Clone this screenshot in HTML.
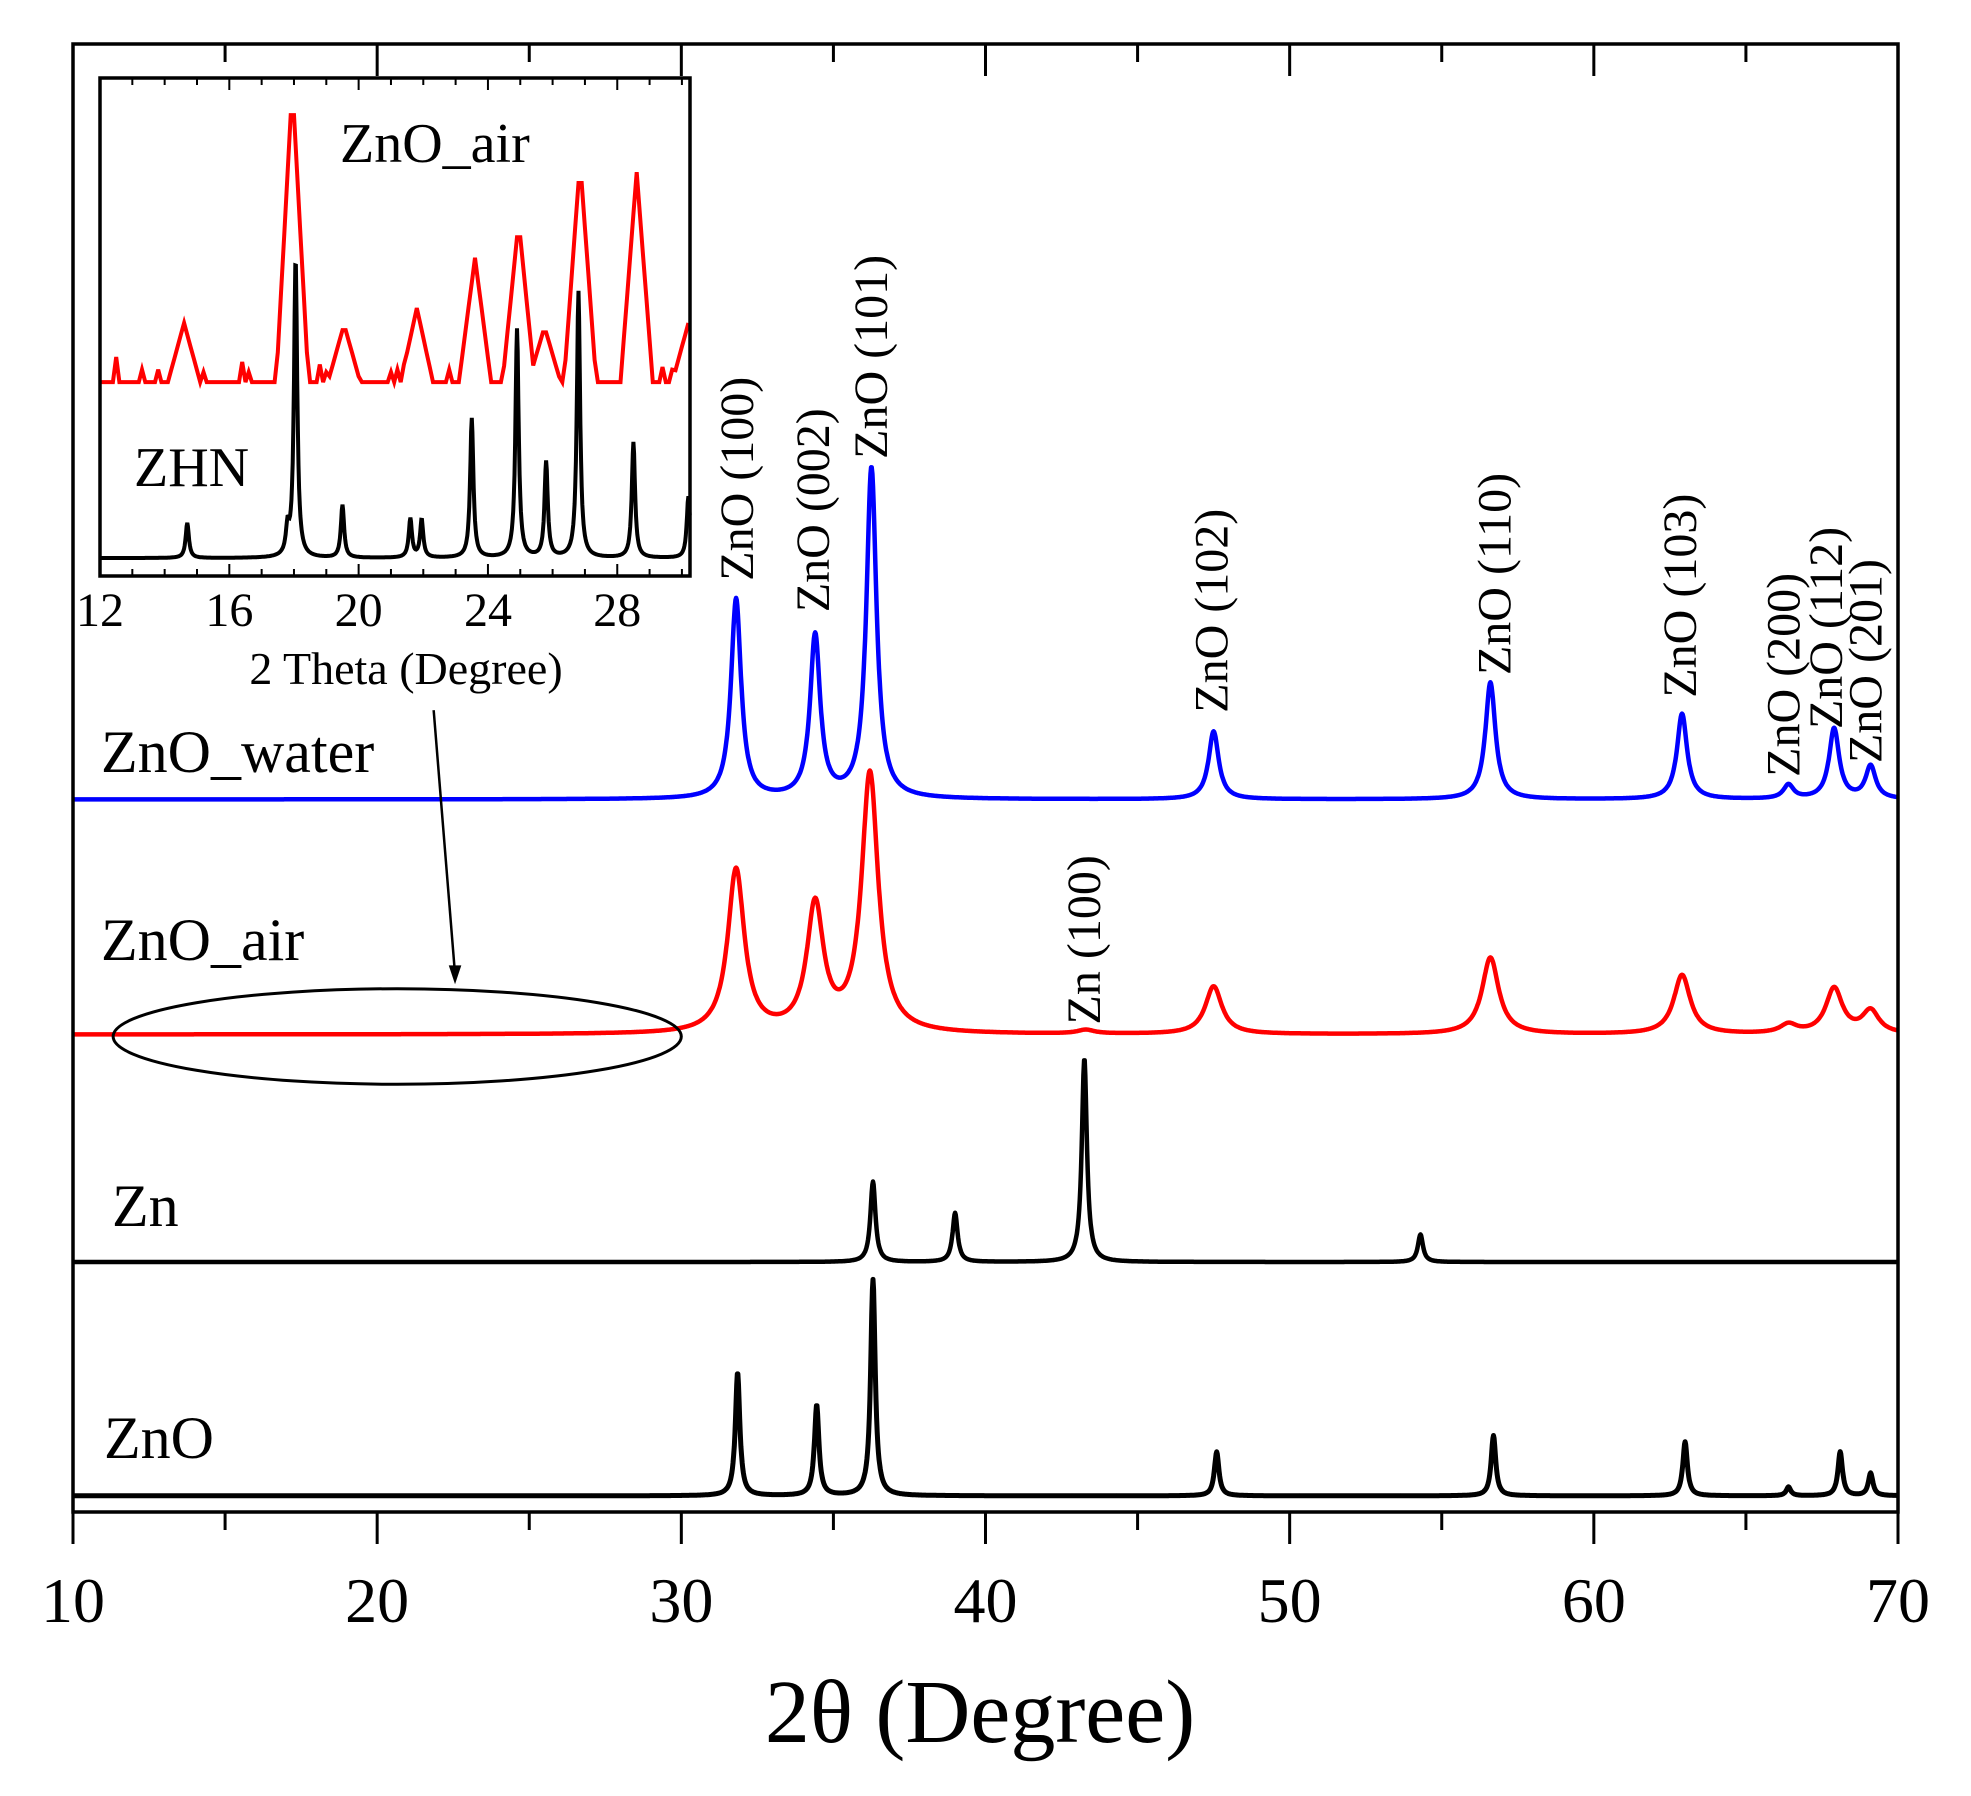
<!DOCTYPE html>
<html><head><meta charset="utf-8"><style>
html,body{margin:0;padding:0;background:#fff}
svg{display:block;font-family:"Liberation Serif",serif}
</style></head><body>
<svg id="c" width="1971" height="1796" viewBox="0 0 1971 1796">
<g id="g"></g>
</svg>
<script>
// ---- main chart data ----
const xTicks=[10,20,30,40,50,60,70];
const waterPos=[31.8,34.4,36.25,47.5,56.6,62.9,66.4,67.9,69.1];
const waterInt=[159,129,263,54,93,68,11,56,26];
const airPos=[31.8,34.4,36.2,43.3,47.5,56.6,62.9,66.4,67.9,69.1];
const airInt=[130,100,206,3,38,61,47,7,36,18];
const znPos=[36.3,39.0,43.25,54.3];
const znInt=[64,39,162,22];
const refPos=[31.85,34.45,36.3,47.6,56.7,63.0,66.4,68.1,69.1];
const refInt=[98,72,172,35,48,43,7,35,18];
const peakLabels=["ZnO (100)","ZnO (002)","ZnO (101)","ZnO (102)","ZnO (110)","ZnO (103)","ZnO (200)","ZnO (112)","ZnO (201)","Zn (100)"];
const peakLabelX=[31.8,34.3,36.2,47.4,56.7,62.8,66.2,67.6,68.9,43.2];
const peakLabelBase=[462,487,365,567,537,555,618,580,607,815];
// ---- inset data ----
const insetTicks=[12,16,20,24,28];
const zhnPos=[14.7,17.8,18.05,19.5,21.6,21.95,23.5,24.9,25.8,26.8,28.5,30.2];
const zhnInt=[28,20,238,42,31,30,111,182,76,212,92,49];
const airInsetPos=[14.6,17.95,19.55,21.8,23.6,24.95,25.75,26.85,28.6,30.2];
const airInsetInt=[47,236,46,59,99,128,44,176,167,47];
const airNoisePos=[12.5,13.3,13.8,15.0,15.2,16.4,16.6,18.8,19.0,21.0,21.2,21.4,22.8,25.5,29.0,29.4,29.7];
const airNoiseInt=[20,10,10,8,8,16,8,14,8,8,10,14,10,12,20,12,10];

const K=1.257;
const NS="http://www.w3.org/2000/svg";
const g=document.getElementById('g');
function el(t,a,p){const e=document.createElementNS(NS,t);for(const k in a)e.setAttribute(k,a[k]);(p||g).appendChild(e);return e;}
const X0=73,X1=1898,Y0=44,Y1=1512;
const xs=v=>X0+(v-10)/60*(X1-X0);
function lor(x,pos,ints,w){let s=0;for(let i=0;i<pos.length;i++){const d=(x-pos[i])/w;s+=ints[i]/(1+d*d);}return s;}
function series(pos,ints,w,base,color,name,sw){
  let d="";for(let x=10;x<=70.0001;x+=0.02){const y=base*K-lor(x,pos,ints,w)*K;d+=(d?"L":"M")+xs(x).toFixed(1)+","+y.toFixed(1);}
  const p=el('path',{d:d,fill:'none',stroke:color,'stroke-width':sw||4.5,'stroke-linejoin':'round'});
  
  
}
series(waterPos,waterInt,0.2,636,'#0000ff','zno-water-line');
series(airPos,airInt,0.33,823,'#ff0000','zno-air-line');
series(znPos,znInt,0.1,1004,'#000','zn-line');
series(refPos,refInt,0.09,1190,'#000','zno-reference-line',5);

// frame
const fr=el('rect',{x:X0,y:Y0,width:X1-X0,height:Y1-Y0,fill:'none',stroke:'#000','stroke-width':3.5});


for(let v=10;v<=70;v+=5){
  const major=v%10===0;const x=xs(v);
  const t=el('line',{x1:x,y1:Y1,x2:x,y2:Y1+(major?32:18),stroke:'#000','stroke-width':3});
  
  
  el('line',{x1:x,y1:Y0,x2:x,y2:Y0+(major?32:18),stroke:'#000','stroke-width':3});
}
xTicks.forEach(v=>{
  const t=el('text',{x:xs(v),y:1622,'font-size':64,'text-anchor':'middle'});t.textContent=v;
  
  
});
const xt=el('text',{x:980,y:1742,'font-size':90,'text-anchor':'middle'});xt.textContent="2θ (Degree)";



// series labels
[["ZnO_water",101,772],["ZnO_air",101,960],["Zn",112,1226],["ZnO",104,1458]].forEach(s=>{
  const t=el('text',{x:s[1],y:s[2],'font-size':60});t.textContent=s[0];
  
  
});
// peak labels
peakLabels.forEach((s,i)=>{
  const x=xs(peakLabelX[i])+17,y=peakLabelBase[i]*K;
  const t=el('text',{x:x,y:y,'font-size':48,transform:`rotate(-90 ${x} ${y})`});t.textContent=s;
  
  
});
// ellipse + arrow
const ell=el('ellipse',{cx:316*K,cy:823*K+2,rx:226*K,ry:38*K,fill:'none',stroke:'#000','stroke-width':3});


const ar=el('line',{x1:345*K,y1:565*K,x2:362*K,y2:775*K,stroke:'#000','stroke-width':2.5});


const ah=el('polygon',{points:`${362*K},${783*K} ${357*K},${768*K} ${367*K},${768*K}`,fill:'#000'});



// ---- inset ----
const IX0=100,IX1=690,IY0=78,IY1=576;
const ixs=v=>IX0+(v-12)/(30.25-12)*(IX1-IX0);
const bg=el('rect',{x:IX0,y:IY0,width:IX1-IX0,height:IY1-IY0,fill:'#fff',stroke:'none'});


{let d="";for(let x=12;x<=30.25;x+=0.02){const y=444*K-lor(x,zhnPos,zhnInt,0.06)*K;d+=(d?"L":"M")+ixs(x).toFixed(1)+","+y.toFixed(1);}
 const p=el('path',{d:d,fill:'none',stroke:'#000','stroke-width':4});
 
 }
{let d="";for(let x=12;x<=30.25;x+=0.1){let s=0;
  airInsetPos.forEach((p,i)=>{const h=airInsetInt[i]*Math.max(0,1-Math.abs(x-p)/0.5);s=Math.max(s,h);});
  airNoisePos.forEach((p,i)=>{if(Math.abs(x-p)<0.06)s=Math.max(s,airNoiseInt[i]);});
  const y=304*K-s*K;d+=(d?"L":"M")+ixs(x).toFixed(1)+","+y.toFixed(1);}
 const p=el('path',{d:d,fill:'none',stroke:'#ff0000','stroke-width':4});
 
 }
const ifr=el('rect',{x:IX0,y:IY0,width:IX1-IX0,height:IY1-IY0,fill:'none',stroke:'#000','stroke-width':3.5});


for(let v=12;v<=30;v+=1){const x=ixs(v),m=v%4===0;
  el('line',{x1:x,y1:IY1,x2:x,y2:IY1-(m?12:7),stroke:'#000','stroke-width':2});
  el('line',{x1:x,y1:IY0,x2:x,y2:IY0+(m?12:7),stroke:'#000','stroke-width':2});}
insetTicks.forEach(v=>{
  const t=el('text',{x:ixs(v),y:626,'font-size':48,'text-anchor':'middle'});t.textContent=v;
  
  
});
const it=el('text',{x:406,y:684,'font-size':46,'text-anchor':'middle'});it.textContent="2 Theta (Degree)";


const l1=el('text',{x:340,y:162,'font-size':56});l1.textContent="ZnO_air";


const l2=el('text',{x:134,y:486,'font-size':56});l2.textContent="ZHN";


</script>
</body></html>
